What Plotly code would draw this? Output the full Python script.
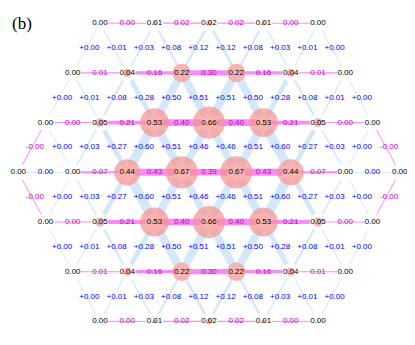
import math
import plotly.graph_objects as go

# site occupations, top row to bottom row, left to right
site_rows = [
    [0.00, 0.01, 0.02, 0.01, 0.00],
    [0.00, 0.04, 0.22, 0.22, 0.04, 0.00],
    [0.00, 0.05, 0.53, 0.66, 0.53, 0.05, 0.00],
    [0.00, 0.00, 0.44, 0.67, 0.67, 0.44, 0.00, 0.00],
    [0.00, 0.05, 0.53, 0.66, 0.53, 0.05, 0.00],
    [0.00, 0.04, 0.22, 0.22, 0.04, 0.00],
    [0.00, 0.01, 0.02, 0.01, 0.00],
]

# horizontal bonds inside each row (negative values are the magenta ones)
hbond_rows = [
    [-0.00, -0.02, -0.02, -0.00],
    [-0.01, -0.16, -0.30, -0.16, -0.01],
    [-0.00, -0.21, -0.40, -0.40, -0.21, -0.00],
    [0.00, -0.07, -0.43, -0.39, -0.43, -0.07, 0.00],
    [-0.00, -0.21, -0.40, -0.40, -0.21, -0.00],
    [-0.01, -0.16, -0.30, -0.16, -0.01],
    [-0.00, -0.02, -0.02, -0.00],
]

# diagonal bonds between neighbouring rows, left to right
dbond_rows = [
    [0.00, 0.01, 0.03, 0.08, 0.12, 0.12, 0.08, 0.03, 0.01, 0.00],
    [0.00, 0.01, 0.08, 0.28, 0.50, 0.51, 0.51, 0.50, 0.28, 0.08, 0.01, 0.00],
    [-0.00, 0.00, 0.03, 0.27, 0.60, 0.51, 0.46, 0.46, 0.51, 0.60, 0.27, 0.03, 0.00, -0.00],
    [-0.00, 0.00, 0.03, 0.27, 0.60, 0.51, 0.46, 0.46, 0.51, 0.60, 0.27, 0.03, 0.00, -0.00],
    [0.00, 0.01, 0.08, 0.28, 0.50, 0.51, 0.51, 0.50, 0.28, 0.08, 0.01, 0.00],
    [0.00, 0.01, 0.03, 0.08, 0.12, 0.12, 0.08, 0.03, 0.01, 0.00],
]

# page has an 8px body margin, so the figure is a bit smaller than the window
W, H = 407, 337
XR = [-3.688, 3.780]
YR = [-3.475, 3.306]
PX = W / (XR[1] - XR[0])

BLUE_LINE = "#d5e8fa"
MAG_LINE = "#f98cf9"
BLUE_TXT = "#0000ff"
MAG_TXT = "#bf00bf"
CIRCLE = "#f5928e"
SHRINK = 0.15


def is_neg(v):
    return math.copysign(1, v) < 0


def row_pos(i):
    n = len(site_rows[i])
    return [k - (n - 1) / 2 for k in range(n)], 3 - i


shapes = []
tx, ty, tt, tc = [], [], [], []


def add_bond(x0, y0, x1, y1, val, label, shift=0.0):
    col = MAG_LINE if is_neg(val) else BLUE_LINE
    ax = x0 + SHRINK * (x1 - x0)
    ay = y0 + SHRINK * (y1 - y0)
    bx = x1 - SHRINK * (x1 - x0)
    by = y1 - SHRINK * (y1 - y0)
    shapes.append(dict(type="line", xref="x", yref="y", x0=ax, y0=ay, x1=bx, y1=by,
                       line=dict(color=col, width=1 + 14 * abs(val)), layer="below"))
    tx.append((x0 + x1) / 2 + shift)
    ty.append((y0 + y1) / 2)
    tt.append(label)
    tc.append(MAG_TXT if is_neg(val) else BLUE_TXT)


# horizontal bonds
for i, vals in enumerate(hbond_rows):
    us, v = row_pos(i)
    for k, val in enumerate(vals):
        add_bond(us[k], v, us[k + 1], v, val, "%.2f" % abs(val))

# diagonal bonds
for i, vals in enumerate(dbond_rows):
    ua, va = row_pos(i)
    ub, vb = row_pos(i + 1)
    pairs = sorted([(a, b) for a in ua for b in ub if abs(a - b) == 0.5], key=lambda p: p[0] + p[1])
    for (a, b), val in zip(pairs, vals):
        add_bond(a, va, b, vb, val, "{:+.2f}".format(val), shift=3 / PX)

# sites
sx, sy, ss = [], [], []
for i, vals in enumerate(site_rows):
    us, v = row_pos(i)
    for u, val in zip(us, vals):
        sx.append(u)
        sy.append(v)
        ss.append(39.5 * math.sqrt(val))
        tx.append(u)
        ty.append(v)
        tt.append("%.2f" % val)
        tc.append("black")

fig = go.Figure()
fig.add_trace(go.Scatter(x=sx, y=sy, mode="markers",
                         marker=dict(size=ss, color=CIRCLE, line=dict(width=0)),
                         hoverinfo="skip"))
fig.add_trace(go.Scatter(x=tx, y=ty, mode="text", text=tt,
                         textfont=dict(color=tc, size=8, family="Liberation Sans, Arial"),
                         textposition="middle center", hoverinfo="skip"))

fig.add_annotation(text="(b)", xref="paper", yref="paper", x=14 / W, y=1 - 15.5 / H,
                   showarrow=False, xanchor="center", yanchor="middle",
                   font=dict(family="Liberation Serif, Times New Roman", size=17, color="black"))

fig.update_layout(width=W, height=H, autosize=False, margin=dict(l=0, r=0, t=0, b=0),
                  paper_bgcolor="white", plot_bgcolor="white", showlegend=False,
                  shapes=shapes)
fig.update_xaxes(range=XR, visible=False, showgrid=False, zeroline=False)
fig.update_yaxes(range=YR, visible=False, showgrid=False, zeroline=False)

fig.write_html("out.html")
